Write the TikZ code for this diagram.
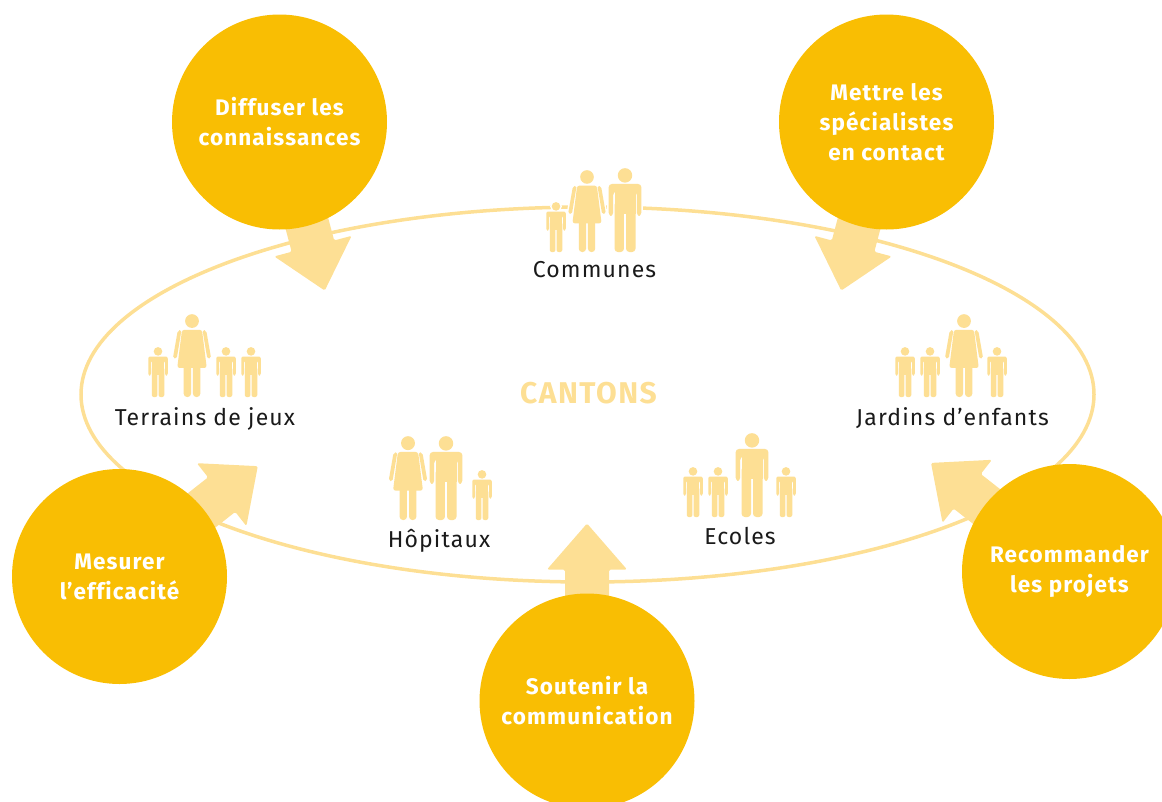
\documentclass[tikz,border=0pt]{standalone}
\usepackage{fontspec}
\setmainfont{Fira Sans}[LetterSpace=5, Ligatures=NoCommon]
\definecolor{gold}{RGB}{249,190,3}
\definecolor{pale}{RGB}{253,223,148}
\definecolor{ink}{RGB}{26,26,26}
\tikzset{
  bigcirc/.style={circle, fill=gold, minimum size=215pt, inner sep=0pt, align=center,
    text=white, font=\bfseries\fontsize{22.5}{30}\selectfont},
  lbl/.style={text=ink, font=\fontsize{23}{28}\selectfont, anchor=base, inner sep=0pt},
  blockarrow/.style={fill=pale, rounded corners=1.5pt},
  halo/.style={draw=white, line width=3pt, fill=white},
  iconfill/.style={fill=pale},
  iconpass/.style={iconfill}
}
\newcommand{\iconman}[3]{%
  \begin{scope}[shift={(#1,#2)},x=#3pt,y=#3pt]
    \path[iconpass] (0,0.912) circle (0.086);
    \path[iconpass,rounded corners={#3*0.04pt}] (-0.195,0.43) -- (-0.195,0.81) -- (0.195,0.81) -- (0.195,0.43) -- (0.14,0.43) -- (0.14,0.72) -- (-0.14,0.72) -- (-0.14,0.43) -- cycle;
    \path[iconpass] (-0.125,0.45) rectangle (0.125,0.74);
    \path[iconpass,rounded corners={#3*0.04pt}] (-0.125,0.6) -- (-0.125,0) -- (-0.012,0) -- (-0.012,0.6) -- cycle;
    \path[iconpass,rounded corners={#3*0.04pt}] (0.125,0.6) -- (0.125,0) -- (0.012,0) -- (0.012,0.6) -- cycle;
  \end{scope}}
\newcommand{\iconwoman}[3]{%
  \begin{scope}[shift={(#1,#2)},x=#3pt,y=#3pt]
    \path[iconpass] (0,0.915) circle (0.083);
    \path[iconpass,rounded corners={#3*0.04pt}] (-0.1,0.5) -- (-0.1,0) -- (-0.012,0) -- (-0.012,0.5) -- cycle;
    \path[iconpass,rounded corners={#3*0.04pt}] (0.1,0.5) -- (0.1,0) -- (0.012,0) -- (0.012,0.5) -- cycle;
    \path[iconpass,rounded corners={#3*0.03pt}] (-0.12,0.81) -- (0.12,0.81) -- (0.178,0.35) -- (-0.178,0.35) -- cycle;
    \path[iconpass,rounded corners={#3*0.022pt}] (-0.126,0.81) -- (-0.185,0.46) -- (-0.23,0.468) -- (-0.172,0.80) -- cycle;
    \path[iconpass,rounded corners={#3*0.022pt}] (0.126,0.81) -- (0.185,0.46) -- (0.23,0.468) -- (0.172,0.80) -- cycle;
  \end{scope}}
\newcommand{\peoplegroups}{%
  % Communes
  \iconman{556}{252}{50}\iconwoman{587}{252}{82}\iconman{625}{252}{84}%
  % Terrains de jeux
  \iconman{158}{397}{50}\iconwoman{192}{397}{83}\iconman{226}{397}{50}\iconman{251}{397}{50}%
  % Jardins d'enfants
  \iconman{905}{397}{50}\iconman{930}{397}{50}\iconwoman{964}{397}{83}\iconman{997}{397}{50}%
  % Hopitaux
  \iconwoman{408}{520}{84}\iconman{446}{520}{84}\iconman{482}{520}{50}%
  % Ecoles
  \iconman{693}{517}{50}\iconman{718}{517}{50}\iconman{752}{517}{84}\iconman{786}{517}{50}%
}
\newcommand{\blockarr}[2]{%
  \fill[blockarrow, shift={(#1)}, rotate=#2] (0,-22) -- (130,-22) -- (130,-40) -- (176,0) -- (130,40) -- (130,22) -- (0,22) -- cycle;}
\begin{document}
\begin{tikzpicture}[x=1pt,y=-1pt]
  \useasboundingbox (0,0) rectangle (1162,801);
  % ring of the cantons
  \draw[pale, line width=3.5pt] (587.5,394.5) ellipse [x radius=506.5, y radius=187.5];
  % circle positions
  \coordinate (p1) at (279.5,120.5);
  \coordinate (p2) at (886.5,120.5);
  \coordinate (p3) at (119.5,575);
  \coordinate (p4) at (1069.5,571.5);
  \coordinate (p5) at (587,699.5);
  % block arrows
  \blockarr{p1}{-75.1}
  \blockarr{p2}{-104.9}
  \blockarr{p3}{38.2}
  \blockarr{p4}{141.9}
  \blockarr{p5}{90}
  % people pictograms: white halo pass then fill pass
  \tikzset{iconpass/.style={halo}}
  \peoplegroups
  \tikzset{iconpass/.style={iconfill}}
  \peoplegroups
  % circles
  \node[bigcirc] (diffuser) at ([yshift=-1.5]p1) {Diffuser les\\connaissances};
  \node[bigcirc] (mettre) at ([yshift=-1.5]p2) {Mettre les\\spécialistes\\en contact};
  \node[bigcirc] (mesurer) at ([yshift=-1.5]p3) {Mesurer\\l’efficacité};
  \node[bigcirc] (recommander) at (p4) {Recommander\\les projets};
  \node[bigcirc] (soutenir) at ([yshift=-1.5]p5) {Soutenir la\\communication};
  % labels
  \node[lbl] (communes) at (594.5,277) {Communes};
  \node[lbl] (terrains) at (205,425) {Terrains de jeux};
  \node[lbl] (jardins) at (952.5,425) {Jardins d’enfants};
  \node[lbl] (hopitaux) at (439,547) {Hôpitaux};
  \node[lbl] (ecoles) at (740,544) {Ecoles};
  \node[lbl, text=pale, font=\bfseries\fontsize{30}{34}\selectfont] (cantons) at (588.5,403.5) {CANTONS};
\end{tikzpicture}
\end{document}
